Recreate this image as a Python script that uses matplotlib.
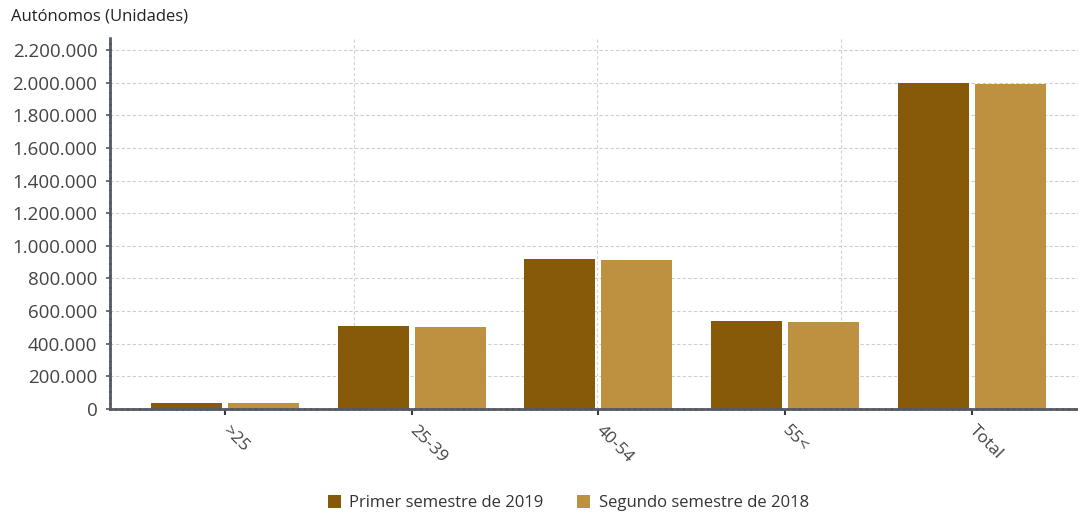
import matplotlib.pyplot as plt
import numpy as np
from matplotlib.ticker import FuncFormatter

plt.rcParams['font.family'] = ['Open Sans', 'DejaVu Sans']

categorias = ['>25', '25-39', '40-54', '55<', 'Total']
primer_2019 = [39000, 511000, 917000, 541000, 2000000]
segundo_2018 = [38000, 505000, 916000, 535000, 1994000]
series = ['Primer semestre de 2019', 'Segundo semestre de 2018']
colores = ['#875A09', '#BE9140']

fig = plt.figure(figsize=(10.78, 5.15), dpi=100)
ax = fig.add_axes([0.102, 0.206, 0.898, 0.722])

x = np.arange(len(categorias))
ancho = 0.38
desp = 0.206
ax.bar(x - desp, primer_2019, ancho, color=colores[0], label=series[0], zorder=3)
ax.bar(x + desp, segundo_2018, ancho, color=colores[1], label=series[1], zorder=3)

ax.set_xlim(-0.616, 4.57)
ax.set_ylim(0, 2280000)
ax.set_yticks(np.arange(0, 2200001, 200000))
ax.yaxis.set_major_formatter(FuncFormatter(lambda v, p: f'{int(v):,}'.replace(',', '.')))

# horizontal grid + a few vertical guide lines
ax.grid(axis='y', color='#cfcfcf', linestyle=(0, (3, 2)), linewidth=0.8, zorder=0)
for f in (0.2525, 0.5035, 0.755):
    ax.plot([f, f], [0, 1], transform=ax.transAxes, color='#d4d4d4',
            linestyle=(0, (3, 2)), linewidth=0.8, zorder=0)

ax.set_xticks(x)
ax.set_xticklabels(categorias, rotation=-45, ha='left', va='center',
                   rotation_mode='anchor', fontsize=12.5, color='#444444')
ax.tick_params(axis='x', length=4, width=1.5, color='#333a4a', pad=10)
ax.tick_params(axis='y', length=3, width=1.2, color='#555555', labelsize=13.5,
               labelcolor='#444444', pad=6)

for s in ('top', 'right'):
    ax.spines[s].set_visible(False)
for s in ('left', 'bottom'):
    ax.spines[s].set_color('#555a66')
    ax.spines[s].set_linewidth(2)
    ax.spines[s].set_linestyle((0, (1.5, 0.7)))
    ax.spines[s].set_zorder(4)

fig.text(0.010, 0.967, 'Autónomos (Unidades)', fontsize=12, color='#222222',
         va='center', ha='left')

fig.legend(loc='lower center', bbox_to_anchor=(0.527, -0.022), ncol=2, frameon=False,
           fontsize=12, handlelength=0.8, handleheight=0.8, handletextpad=0.5,
           columnspacing=2.0, labelcolor='#333333')

fig.savefig('out.png', dpi=100)
